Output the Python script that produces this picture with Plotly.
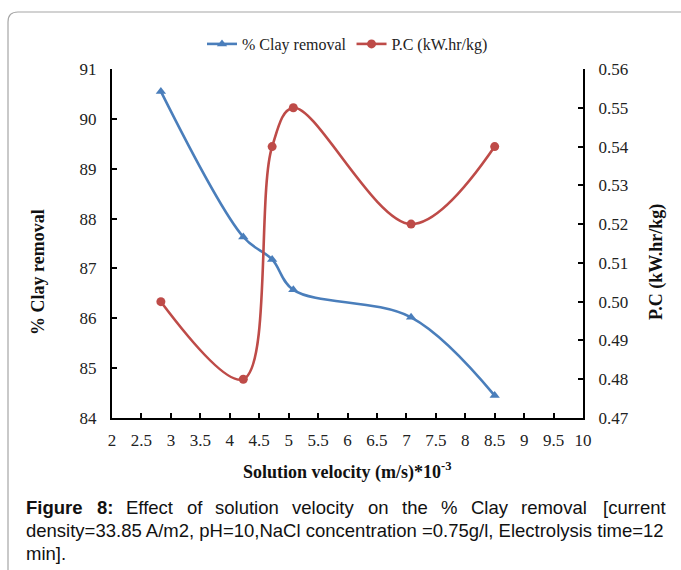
import plotly.graph_objects as go

# Solution velocity (m/s)*10^-3
velocity = [2.83, 4.23, 4.72, 5.08, 7.08, 8.50]
# % Clay removal (left axis)
clay_removal = [90.55, 87.63, 87.18, 86.57, 86.02, 84.45]
# Power consumption P.C in kW.hr/kg (right axis)
power_consumption = [0.50, 0.48, 0.54, 0.55, 0.52, 0.54]

W_FIG, H_FIG = 681, 570
L, R, T, B = 112, 583, 69, 418  # plot area in pixels


def fx(px):
    return (px - L) / (R - L)


def fy(py):
    return (B - py) / (B - T)


SERIF = "Liberation Serif, Times New Roman, serif"
SANS = "Liberation Sans, Arial, sans-serif"
BLUE = "#4A7EBB"
RED = "#BE4B48"

fig = go.Figure()
fig.add_trace(go.Scatter(
    x=velocity, y=clay_removal, name="% Clay removal",
    mode="lines+markers", line=dict(color=BLUE, width=2.6, shape="spline", smoothing=1.0),
    marker=dict(symbol="triangle-up", size=9, color=BLUE),
))
fig.add_trace(go.Scatter(
    x=velocity, y=power_consumption, name="P.C (kW.hr/kg)", yaxis="y2",
    mode="lines+markers", line=dict(color=RED, width=2.6, shape="spline", smoothing=1.0),
    marker=dict(symbol="circle", size=9, color=RED),
))

axis_common = dict(
    showline=True, linecolor="black", linewidth=2,
    ticks="inside", ticklen=5, tickwidth=2, tickcolor="black",
    showgrid=False, zeroline=False,
    tickfont=dict(family=SERIF, size=17, color="#222"),
)

fig.update_layout(
    width=W_FIG, height=H_FIG,
    margin=dict(l=L, r=W_FIG - R, t=T, b=H_FIG - B),
    paper_bgcolor="white", plot_bgcolor="white",
    showlegend=True,
    legend=dict(orientation="h", x=0.5, xanchor="center", y=fy(44), yanchor="middle",
                font=dict(family=SERIF, size=16, color="#222"),
                itemwidth=30, tracegroupgap=0, bgcolor="rgba(0,0,0,0)"),
    xaxis=dict(range=[2, 10], dtick=0.5, tick0=2, ticklabelstandoff=6, **axis_common),
    yaxis=dict(range=[84, 91], dtick=1, ticklabelstandoff=10, **axis_common),
    yaxis2=dict(range=[0.47, 0.56], dtick=0.01, tickformat=".2f", overlaying="y",
                side="right", ticklabelstandoff=10, **axis_common),
)

annotations = [
    dict(text="<b>% Clay removal</b>", x=fx(38), y=fy(272), textangle=-90,
         font=dict(family=SERIF, size=18, color="#111")),
    dict(text="<b>P.C (kW.hr/kg)</b>", x=fx(656), y=fy(262), textangle=-90,
         font=dict(family=SERIF, size=18, color="#111")),
    dict(text="<b>Solution velocity (m/s)*10<sup>-3</sup></b>", x=fx(347), y=fy(471),
         font=dict(family=SERIF, size=18, color="#111")),
]

# Caption: first line justified word by word, then the remaining lines
cap_font = dict(family=SANS, size=18.5, color="#111")
line1 = [("<b>Figure</b>", 24), ("<b>8:</b>", 95), ("Effect", 124), ("of", 185),
         ("solution", 213), ("velocity", 290), ("on", 366), ("the", 400),
         ("%", 439), ("Clay", 469), ("removal", 519)]
for word, xpos in line1:
    annotations.append(dict(text=word, x=fx(xpos), y=fy(507), xanchor="left"))
annotations.append(dict(text="[current", x=fx(668), y=fy(507), xanchor="right"))
annotations.append(dict(
    text="density=33.85 A/m2, pH=10,NaCl concentration =0.75g/l, Electrolysis time=12",
    x=fx(24), y=fy(530), xanchor="left"))
annotations.append(dict(text="min].", x=fx(24), y=fy(553), xanchor="left"))

for a in annotations:
    a.setdefault("font", cap_font)
    a.update(xref="paper", yref="paper", showarrow=False, yanchor="middle")
    a.setdefault("xanchor", "center")
fig.update_layout(annotations=annotations)

# Rounded frame around the whole figure
path = (f"M {fx(8)},{fy(585)} L {fx(8)},{fy(22)} Q {fx(8)},{fy(12)} {fx(18)},{fy(12)} "
        f"L {fx(700)},{fy(12)}")
fig.add_shape(type="path", path=path, xref="paper", yref="paper",
              line=dict(color="#A6A6A6", width=1.2))

fig.write_html("out.html")
